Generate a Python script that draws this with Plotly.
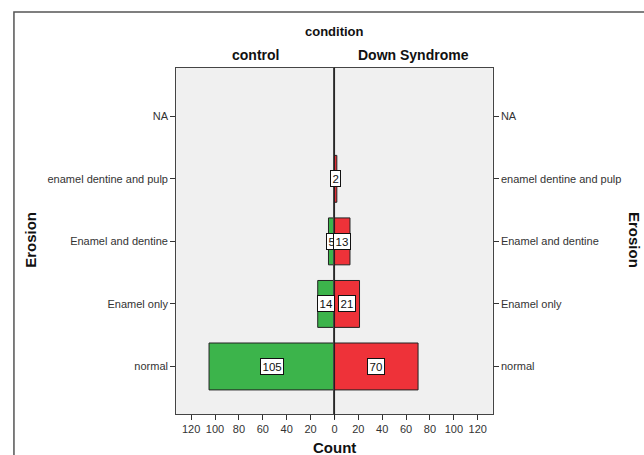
import plotly.graph_objects as go

# Erosion categories, bottom to top
categories = ["normal", "Enamel only", "Enamel and dentine", "enamel dentine and pulp", "NA"]
control_counts = [105, 14, 5, 0, 0]
down_counts = [70, 21, 13, 2, 0]
tick_vals_left = [20, 40, 60, 80, 100, 120]
tick_vals_right = [0, 20, 40, 60, 80, 100, 120]

W, H = 644, 455
GREEN = "#3cb44b"
RED = "#ee3239"
FONT = "Liberation Sans, Arial, sans-serif"


def px(x):
    return x / W


def py(y):
    return 1 - y / H


left_dom = [px(174), px(333)]
right_dom = [px(333), px(492)]
y_dom = [py(414), py(67.5)]
x_max = 132.5
y_range = [-0.76, 4.78]

fig = go.Figure()


def nonzero(vals):
    return [(c, v) for c, v in zip(categories, vals) if v > 0]


c_pairs = nonzero(control_counts)
d_pairs = nonzero(down_counts)

fig.add_trace(go.Bar(
    orientation="h",
    y=[c for c, _ in c_pairs], x=[v for _, v in c_pairs],
    marker=dict(color=GREEN, line=dict(color="#222", width=1)),
    width=0.75, xaxis="x", yaxis="y", showlegend=False, hoverinfo="skip",
))
fig.add_trace(go.Bar(
    orientation="h",
    y=[c for c, _ in d_pairs], x=[v for _, v in d_pairs],
    marker=dict(color=RED, line=dict(color="#222", width=1)),
    width=0.75, xaxis="x2", yaxis="y2", showlegend=False, hoverinfo="skip",
))

annotations = []
for (cat, v), xr, yr in [(p, "x", "y") for p in c_pairs] + [(p, "x2", "y2") for p in d_pairs]:
    annotations.append(dict(
        x=v / 2, y=cat, xref=xr, yref=yr, text=str(v), showarrow=False,
        xanchor="center", yanchor="middle",
        font=dict(family=FONT, size=11.5, color="#111"),
        bgcolor="white", bordercolor="#111", borderwidth=1, borderpad=1.5,
    ))


def label(x, y, text, size, angle=0):
    return dict(x=px(x), y=py(y), xref="paper", yref="paper", text=text,
                showarrow=False, xanchor="center", yanchor="middle",
                textangle=angle, font=dict(family=FONT, size=size, color="#111"))


annotations += [
    label(333, 32, "<b>condition</b>", 13),
    label(254, 55, "<b>control</b>", 14),
    label(412, 55, "<b>Down Syndrome</b>", 14),
    label(333, 447, "<b>Count</b>", 15),
    label(27, 240, "<b>Erosion</b>", 15, -90),
    label(635, 240, "<b>Erosion</b>", 15, 90),
]

tick_font = dict(family=FONT, size=11, color="#333")
axis_common = dict(showgrid=False, zeroline=False, showline=True, linecolor="#444",
                   linewidth=1, mirror=True, ticks="outside", ticklen=5,
                   tickcolor="#333", tickfont=tick_font, fixedrange=True)

fig.update_layout(
    width=W, height=H, margin=dict(l=0, r=0, t=0, b=0),
    paper_bgcolor="white", plot_bgcolor="#f0f0f0",
    barmode="overlay",
    xaxis=dict(domain=left_dom, range=[x_max, 0], anchor="y",
               tickvals=tick_vals_left, **axis_common),
    xaxis2=dict(domain=right_dom, range=[0, x_max], anchor="y2",
                tickvals=tick_vals_right, **axis_common),
    yaxis=dict(domain=y_dom, range=y_range, anchor="x", type="category",
               categoryorder="array", categoryarray=categories,
               tickvals=categories, side="left", **axis_common),
    yaxis2=dict(domain=y_dom, range=y_range, anchor="x2", type="category",
                categoryorder="array", categoryarray=categories,
                tickvals=categories, side="right", **axis_common),
    annotations=annotations,
    shapes=[
        # outer frame
        dict(type="rect", xref="paper", yref="paper", x0=px(11), x1=px(660),
             y0=py(470), y1=py(12), line=dict(color="#555", width=1.5)),
        # centre divider
        dict(type="line", xref="x2", yref="paper", x0=0, x1=0,
             y0=py(419), y1=y_dom[1], line=dict(color="#111", width=1.2)),
    ],
)

fig.write_html("out.html")
